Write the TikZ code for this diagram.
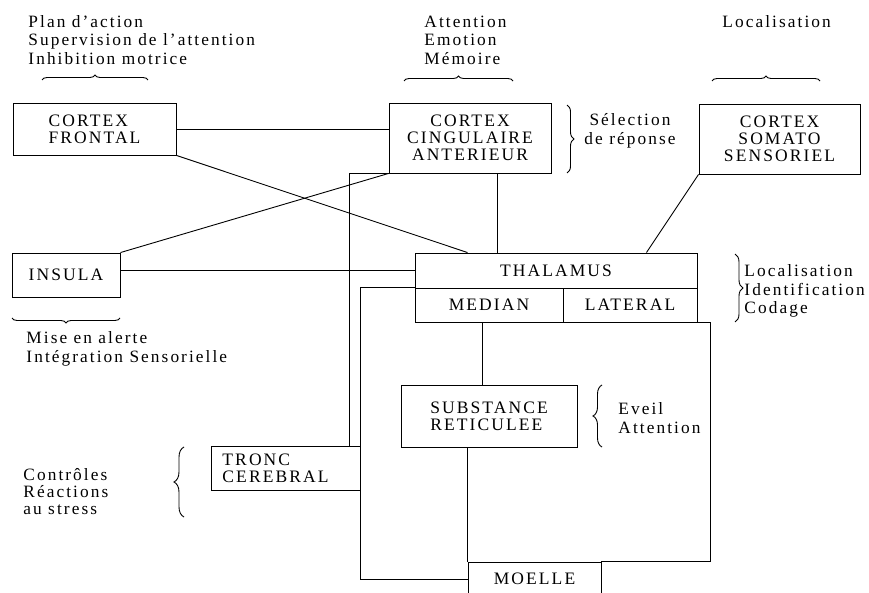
\documentclass[tikz,border=0pt]{standalone}
\usepackage{fontspec}
\setmainfont{Liberation Serif}[LetterSpace=12]
\usetikzlibrary{decorations.pathreplacing,calc}
\begin{document}
\begin{tikzpicture}[x=1pt,y=-1pt,line width=0.9pt,
  box/.style={draw,rectangle,inner sep=0pt,font=\fontsize{17.5}{17}\selectfont,align=center},
  lbl/.style={inner sep=0pt,font=\fontsize{17.3}{18.5}\selectfont,align=left,anchor=west},
  brc/.style={decorate,decoration={brace,amplitude=#1}}]
\useasboundingbox (0,0) rectangle (869,593);
% boxes
\node[box,align=left,minimum width=163pt,minimum height=52pt] (fro) at (94.5,129) {CORTEX\\FRONTAL};
\node[box,minimum width=162pt,minimum height=70pt] (cing) at (470,138) {CORTEX\\CINGULAIRE\\ANTERIEUR};
\node[box,minimum width=161pt,minimum height=70pt] (som) at (779.5,139) {CORTEX\\SOMATO\\SENSORIEL};
\node[box,minimum width=108pt,minimum height=44pt] (ins) at (66,275) {INSULA};
\node[box,minimum width=282pt,minimum height=35pt] (thal) at (556,270.5) {THALAMUS};
\node[box,minimum width=148pt,minimum height=34pt] (med) at (489,305) {MEDIAN};
\node[box,minimum width=134pt,minimum height=34pt] (lat) at (630,305) {LATERAL};
\node[box,align=left,minimum width=176pt,minimum height=62pt] (sub) at (489,416) {SUBSTANCE\\RETICULEE};
\node[box,align=left,minimum width=149pt,minimum height=44pt] (tro) at (285.5,468) {TRONC\\CEREBRAL\hspace*{20pt}};
\node[box,minimum width=133pt,minimum height=34pt] (moe) at (534.5,579) {MOELLE};
% labels
\node[lbl] (l1) at (28,40) {Plan d'action\\Supervision de l'attention\\Inhibition motrice};
\node[lbl] (l2) at (424,40) {Attention\\Emotion\\Mémoire};
\node[lbl] (l3) at (722,22) {Localisation};
\node[lbl,align=center,anchor=center] (l4) at (630,131) {Sélection\\de réponse};
\node[lbl] (l5) at (744,291) {Localisation\\Identification\\Codage};
\node[lbl] (l6) at (26,349) {Mise en alerte\\Intégration Sensorielle};
\node[lbl] (l7) at (618,418) {Eveil\\Attention};
\node[lbl,font=\fontsize{17.3}{17}\selectfont] (l8) at (23,492) {Contrôles\\Réactions\\au stress};
% braces
\draw[brc=5pt] (42,80) -- (148,80);
\draw[brc=5pt] (404,81) -- (513,81);
\draw[brc=5pt] (712,81) -- (820,81);
\draw[brc=5pt] (120,318) -- (12,318);
\draw[brc=7pt] (567,105) -- (567,173);
\draw[brc=8pt] (735,254) -- (735,322);
\draw[brc=9pt] (602,447) -- (602,385);
\draw[brc=10pt] (184,517) -- (184,447);
% connectors
\draw (fro.east) -- (fro.east -| cing.west);
\draw (fro.south east) -- ($(thal.north west)+(53,0)$);
\draw (ins.north east) -- (cing.south west);
\draw (ins.east |- thal.west) -- (thal.west);
\draw ($(cing.south)+(27,0)$) -- ($(thal.north)+(-59,0)$);
\draw (cing.south west) -| ($(tro.north east)+(-11,0)$);
\draw (som.south west) -- ($(thal.north east)+(-51,0)$);
\draw (med.north west) -| (tro.north east);
\draw (tro.south east) |- (moe.west);
\draw ($(med.south)+(-7,0)$) -- ($(sub.north)+(-7,0)$);
\draw (sub.south -| moe.north west) -- (moe.north west);
\draw (lat.south east) -- ++(13,0) |- (moe.north east);
\end{tikzpicture}
\end{document}
